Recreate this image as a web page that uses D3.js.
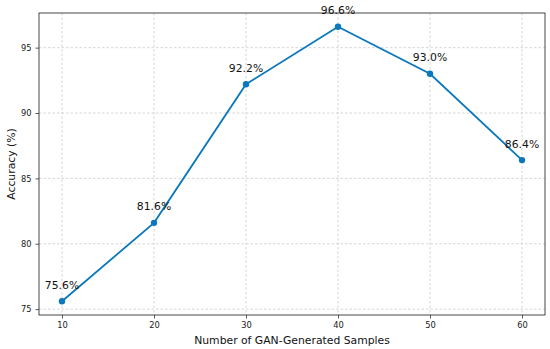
<!DOCTYPE html>
<html><head><meta charset="utf-8">
<script src="https://cdn.jsdelivr.net/npm/d3@7"></script>
<style>body{margin:0;background:#fff;}svg{display:block;font-family:"DejaVu Sans",sans-serif;}</style>
</head><body>
<script>
const samples = [10, 20, 30, 40, 50, 60];
const accuracy = [75.6, 81.6, 92.2, 96.6, 93.0, 86.4];
const xTicks = [10, 20, 30, 40, 50, 60];
const yTicks = [75, 80, 85, 90, 95];
const xLabel = "Number of GAN-Generated Samples";
const yLabel = "Accuracy (%)";
const color = "#0a78bb";

const W = 550, H = 349;
const m = {left: 39, right: 5, top: 13, bottom: 34};
const svg = d3.select("body").append("svg").attr("width", W).attr("height", H);
const x = d3.scaleLinear().domain([7.5, 62.5]).range([m.left, W - m.right]);
const y = d3.scaleLinear().domain([74.55, 97.65]).range([H - m.bottom, m.top]);

// grid
const g = svg.append("g");
g.selectAll(".gx").data(xTicks).join("line")
  .attr("x1", d => x(d)).attr("x2", d => x(d)).attr("y1", m.top).attr("y2", H - m.bottom)
  .attr("stroke", "#cccccc").attr("stroke-width", 0.8).attr("stroke-dasharray", "2.5,2");
g.selectAll(".gy").data(yTicks).join("line")
  .attr("y1", d => y(d)).attr("y2", d => y(d)).attr("x1", m.left).attr("x2", W - m.right)
  .attr("stroke", "#cccccc").attr("stroke-width", 0.8).attr("stroke-dasharray", "2.5,2");

// axes
const xa = svg.append("g").attr("transform", `translate(0,${H - m.bottom})`)
  .call(d3.axisBottom(x).tickValues(xTicks).tickSize(3.5).tickPadding(4).tickSizeOuter(0));
const ya = svg.append("g").attr("transform", `translate(${m.left},0)`)
  .call(d3.axisLeft(y).tickValues(yTicks).tickSize(3.5).tickPadding(4).tickSizeOuter(0));
[xa, ya].forEach(a => {
  a.select(".domain").remove();
  a.selectAll("text").attr("font-size", 8.3).attr("fill", "#222").attr("font-family", "DejaVu Sans");
  a.selectAll("line").attr("stroke", "#333").attr("stroke-width", 0.8);
});

// frame
svg.append("rect").attr("x", m.left).attr("y", m.top)
  .attr("width", W - m.right - m.left).attr("height", H - m.bottom - m.top)
  .attr("fill", "none").attr("stroke", "#333").attr("stroke-width", 0.9);

// line
const pts = samples.map((s, i) => [s, accuracy[i]]);
svg.append("path").datum(pts)
  .attr("d", d3.line().x(d => x(d[0])).y(d => y(d[1])))
  .attr("fill", "none").attr("stroke", color).attr("stroke-width", 1.8);
svg.selectAll(".pt").data(pts).join("circle")
  .attr("cx", d => x(d[0])).attr("cy", d => y(d[1])).attr("r", 3.2).attr("fill", color);

// annotations
svg.selectAll(".ann").data(pts).join("text")
  .attr("x", d => x(d[0])).attr("y", d => y(d[1]) - 12.5)
  .attr("text-anchor", "middle").attr("font-size", 10.8).attr("fill", "#111")
  .text(d => d[1].toFixed(1) + "%");

// axis labels
svg.append("text").attr("x", (m.left + W - m.right) / 2).attr("y", 344)
  .attr("text-anchor", "middle").attr("font-size", 10.8).attr("fill", "#111").text(xLabel);
svg.append("text").attr("transform", `translate(15,${(m.top + H - m.bottom) / 2}) rotate(-90)`)
  .attr("text-anchor", "middle").attr("font-size", 10.8).attr("fill", "#111").text(yLabel);
</script>
</body></html>
